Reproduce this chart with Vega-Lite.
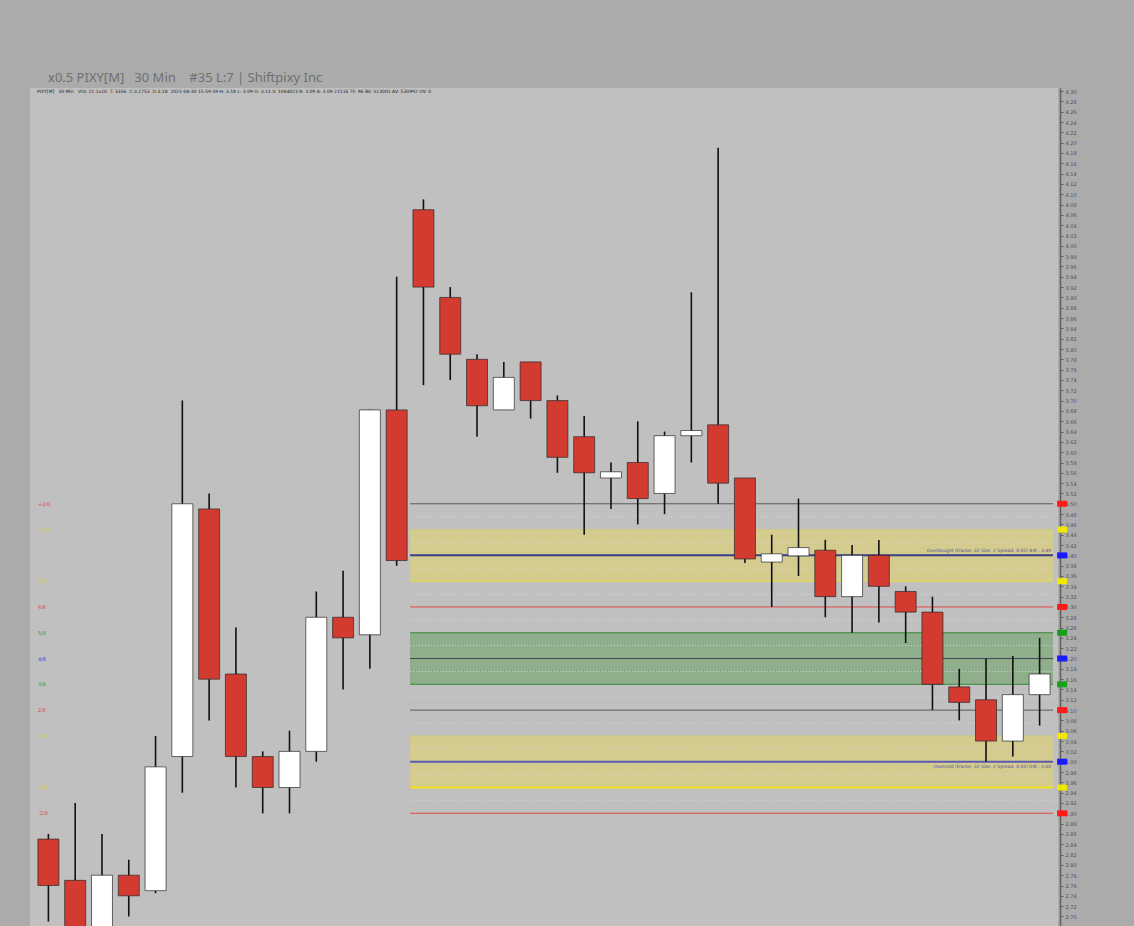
{
  "$schema": "https://vega.github.io/schema/vega-lite/v6.json",
  "width": 1028,
  "height": 838,
  "padding": {"left": 30, "top": 72, "right": 57, "bottom": 2},
  "background": "#ababab",
  "title": {
    "text": "x0.5 PIXY[M]\u00a0\u00a0 30 Min\u00a0\u00a0\u00a0 #35 L:7 | Shiftpixy Inc",
    "anchor": "start",
    "dx": 18,
    "offset": 3,
    "font": "Noto Sans",
    "fontSize": 13,
    "fontWeight": "normal",
    "color": "#6f6f6f"
  },
  "config": {"view": {"fill": "#c0c0c0", "stroke": null}},
  "datasets": {
    "candles": [
      {"i": 1, "open": 2.85, "high": 2.86, "low": 2.69, "close": 2.76},
      {"i": 2, "open": 2.77, "high": 2.92, "low": 2.64, "close": 2.66},
      {"i": 3, "open": 2.65, "high": 2.86, "low": 2.63, "close": 2.78},
      {"i": 4, "open": 2.78, "high": 2.81, "low": 2.70, "close": 2.74},
      {"i": 5, "open": 2.75, "high": 3.05, "low": 2.745, "close": 2.99},
      {"i": 6, "open": 3.01, "high": 3.70, "low": 2.94, "close": 3.50},
      {"i": 7, "open": 3.49, "high": 3.52, "low": 3.08, "close": 3.16},
      {"i": 8, "open": 3.17, "high": 3.26, "low": 2.95, "close": 3.01},
      {"i": 9, "open": 3.01, "high": 3.02, "low": 2.90, "close": 2.95},
      {"i": 10, "open": 2.95, "high": 3.06, "low": 2.90, "close": 3.02},
      {"i": 11, "open": 3.02, "high": 3.33, "low": 3.00, "close": 3.28},
      {"i": 12, "open": 3.28, "high": 3.37, "low": 3.14, "close": 3.24},
      {"i": 13, "open": 3.246, "high": 3.683, "low": 3.18, "close": 3.682},
      {"i": 14, "open": 3.682, "high": 3.94, "low": 3.38, "close": 3.39},
      {"i": 15, "open": 4.07, "high": 4.09, "low": 3.73, "close": 3.92},
      {"i": 16, "open": 3.90, "high": 3.92, "low": 3.74, "close": 3.79},
      {"i": 17, "open": 3.78, "high": 3.79, "low": 3.63, "close": 3.69},
      {"i": 18, "open": 3.682, "high": 3.775, "low": 3.682, "close": 3.745},
      {"i": 19, "open": 3.775, "high": 3.775, "low": 3.665, "close": 3.70},
      {"i": 20, "open": 3.70, "high": 3.71, "low": 3.56, "close": 3.59},
      {"i": 21, "open": 3.63, "high": 3.67, "low": 3.44, "close": 3.56},
      {"i": 22, "open": 3.55, "high": 3.58, "low": 3.49, "close": 3.562},
      {"i": 23, "open": 3.58, "high": 3.66, "low": 3.46, "close": 3.51},
      {"i": 24, "open": 3.52, "high": 3.64, "low": 3.48, "close": 3.632},
      {"i": 25, "open": 3.632, "high": 3.91, "low": 3.58, "close": 3.642},
      {"i": 26, "open": 3.653, "high": 4.19, "low": 3.50, "close": 3.54},
      {"i": 27, "open": 3.55, "high": 3.55, "low": 3.385, "close": 3.393},
      {"i": 28, "open": 3.387, "high": 3.44, "low": 3.30, "close": 3.403},
      {"i": 29, "open": 3.399, "high": 3.51, "low": 3.36, "close": 3.415},
      {"i": 30, "open": 3.41, "high": 3.43, "low": 3.28, "close": 3.32},
      {"i": 31, "open": 3.32, "high": 3.42, "low": 3.25, "close": 3.40},
      {"i": 32, "open": 3.40, "high": 3.43, "low": 3.27, "close": 3.34},
      {"i": 33, "open": 3.33, "high": 3.34, "low": 3.23, "close": 3.29},
      {"i": 34, "open": 3.29, "high": 3.32, "low": 3.10, "close": 3.15},
      {"i": 35, "open": 3.145, "high": 3.18, "low": 3.08, "close": 3.115},
      {"i": 36, "open": 3.12, "high": 3.20, "low": 3.00, "close": 3.04},
      {"i": 37, "open": 3.04, "high": 3.205, "low": 3.01, "close": 3.13},
      {"i": 38, "open": 3.13, "high": 3.24, "low": 3.07, "close": 3.17}
    ],
    "levels": [
      {"lbl": "+2/8", "p": 3.50},
      {"lbl": "+1/8", "p": 3.45},
      {"lbl": "8/8", "p": 3.40},
      {"lbl": "7/8", "p": 3.35},
      {"lbl": "6/8", "p": 3.30},
      {"lbl": "5/8", "p": 3.25},
      {"lbl": "4/8", "p": 3.20},
      {"lbl": "3/8", "p": 3.15},
      {"lbl": "2/8", "p": 3.10},
      {"lbl": "1/8", "p": 3.05},
      {"lbl": "0/8", "p": 3.00},
      {"lbl": "-1/8", "p": 2.95},
      {"lbl": "-2/8", "p": 2.90}
    ],
    "minor": [
      {"p": 2.925}, {"p": 2.975}, {"p": 3.025}, {"p": 3.075}, {"p": 3.125}, {"p": 3.175},
      {"p": 3.225}, {"p": 3.275}, {"p": 3.325}, {"p": 3.375}, {"p": 3.425}, {"p": 3.475}
    ],
    "bands": [
      {"zone": "overbought", "lo": 3.35, "hi": 3.45},
      {"zone": "middle", "lo": 3.15, "hi": 3.25},
      {"zone": "oversold", "lo": 2.95, "hi": 3.05}
    ],
    "notes": [
      {"kind": "ob", "p": 3.40, "note": "Overbought (Frame: 32 Size: 2 Spread: 0.05) 8/8 : 3.40"},
      {"kind": "os", "p": 3.00, "note": "Oversold (Frame: 32 Size: 2 Spread: 0.05) 0/8 : 3.00"}
    ],
    "info": [
      {"p": 4.306, "txt": "PIXY[M]\u00a0\u00a0 30 Min\u00a0\u00a0 VOL 21.1x10\u00a0 T: 3356\u00a0 C:3.1753\u00a0 D:3.18\u00a0 2021-04-30 15:59:59 H: 3.18 L: 3.09 O: 3.13 V: 1044023 R: 3.09 A: 3.09 21516 TF: 96 BV: 513001 AV: 530992 OV: 0"}
    ]
  },
  "resolve": {"scale": {"fill": "independent", "stroke": "independent", "color": "independent"}},
  "layer": [
    {
      "data": {"name": "bands"},
      "mark": {"type": "rect"},
      "encoding": {
        "x": {"datum": 14.5, "type": "quantitative", "scale": {"domain": [0.5, 38.5], "nice": false, "zero": false}, "axis": null},
        "x2": {"datum": 38.5},
        "y": {"field": "lo", "type": "quantitative", "title": null,
          "scale": {"domain": [2.6815, 4.306], "nice": false, "zero": false},
          "axis": {"orient": "right", "tickCount": 81, "format": ".2f", "labelFontSize": 5, "labelColor": "#505050", "labelFont": "DejaVu Sans", "tickColor": "#606060", "tickSize": 3, "domainColor": "#606060", "domainWidth": 1.5, "offset": 2, "grid": false, "labelPadding": 2, "labelOverlap": false, "labelBound": false, "title": null}},
        "y2": {"field": "hi"},
        "fill": {"field": "zone", "type": "nominal", "legend": null,
          "scale": {"domain": ["overbought", "middle", "oversold"], "range": ["#d4cc8e", "#8fae8b", "#d4cc8e"]}}
      }
    },
    {
      "data": {"name": "minor"},
      "mark": {"type": "rule", "stroke": "#d6d6d6", "strokeWidth": 1, "strokeDash": [1, 2]},
      "encoding": {
        "x": {"datum": 14.5, "type": "quantitative"},
        "x2": {"datum": 38.5},
        "y": {"field": "p", "type": "quantitative", "title": null}
      }
    },
    {
      "data": {"name": "levels"},
      "transform": [{"filter": {"not": {"field": "lbl", "oneOf": ["8/8", "0/8", "-1/8"]}}}],
      "mark": {"type": "rule", "strokeWidth": 1},
      "encoding": {
        "x": {"datum": 14.5, "type": "quantitative"},
        "x2": {"datum": 38.5},
        "y": {"field": "p", "type": "quantitative", "title": null},
        "stroke": {"field": "lbl", "type": "nominal", "legend": null,
          "scale": {"domain": ["+2/8", "+1/8", "7/8", "6/8", "5/8", "4/8", "3/8", "2/8", "1/8", "-2/8"],
            "range": ["#5a5a5a", "#cfc77e", "#e6da3c", "#e04848", "#3a8a3a", "#454555", "#3a8a3a", "#5a5a5a", "#cfc77e", "#e04848"]}}
      }
    },
    {
      "data": {"name": "levels"},
      "transform": [{"filter": {"field": "lbl", "oneOf": ["8/8", "0/8", "-1/8"]}}],
      "mark": {"type": "rule", "strokeWidth": 2},
      "encoding": {
        "x": {"datum": 14.5, "type": "quantitative"},
        "x2": {"datum": 38.5},
        "y": {"field": "p", "type": "quantitative", "title": null},
        "stroke": {"field": "lbl", "type": "nominal", "legend": null,
          "scale": {"domain": ["8/8", "0/8", "-1/8"], "range": ["#3c3c8c", "#5a5ab4", "#f2e31c"]}}
      }
    },
    {
      "data": {"name": "candles"},
      "mark": {"type": "rule", "stroke": "#111111", "strokeWidth": 1.6, "clip": true},
      "encoding": {
        "x": {"field": "i", "type": "quantitative"},
        "y": {"field": "low", "type": "quantitative", "title": null},
        "y2": {"field": "high"}
      }
    },
    {
      "data": {"name": "candles"},
      "mark": {"type": "bar", "width": 21, "stroke": "#2a2a2a", "strokeWidth": 0.7, "clip": true},
      "encoding": {
        "x": {"field": "i", "type": "quantitative"},
        "y": {"field": "open", "type": "quantitative", "title": null},
        "y2": {"field": "close"},
        "fill": {"condition": {"test": "datum.close >= datum.open", "value": "#ffffff"}, "value": "#d33a30"}
      }
    },
    {
      "data": {"name": "levels"},
      "transform": [{"filter": {"not": {"field": "lbl", "oneOf": ["8/8", "0/8"]}}}],
      "mark": {"type": "text", "align": "left", "baseline": "middle", "dx": 3, "fontSize": 5, "font": "DejaVu Sans"},
      "encoding": {
        "x": {"datum": 0.5, "type": "quantitative"},
        "y": {"field": "p", "type": "quantitative", "title": null},
        "text": {"field": "lbl"},
        "fill": {"field": "lbl", "type": "nominal", "legend": null,
          "scale": {"domain": ["+2/8", "+1/8", "8/8", "7/8", "6/8", "5/8", "4/8", "3/8", "2/8", "1/8", "0/8", "-1/8", "-2/8"],
            "range": ["#e04a4a", "#d8cc10", "#4040e0", "#d8cc10", "#e04a4a", "#3a9a3a", "#4040e0", "#3a9a3a", "#e04a4a", "#d8cc10", "#4040e0", "#d8cc10", "#e04a4a"]}}
      }
    },
    {
      "data": {"name": "levels"},
      "mark": {"type": "point", "filled": true, "opacity": 1, "shape": "M-1,-0.6H1V0.6H-1Z", "size": 100, "strokeWidth": 0},
      "encoding": {
        "x": {"datum": 38.84, "type": "quantitative"},
        "y": {"field": "p", "type": "quantitative", "title": null},
        "fill": {"field": "lbl", "type": "nominal", "legend": null,
          "scale": {"domain": ["+2/8", "+1/8", "8/8", "7/8", "6/8", "5/8", "4/8", "3/8", "2/8", "1/8", "0/8", "-1/8", "-2/8"],
            "range": ["#ff1a1a", "#f0e800", "#1a1aff", "#f0e800", "#ff1a1a", "#18a018", "#1a1aff", "#18a018", "#ff1a1a", "#f0e800", "#1a1aff", "#f0e800", "#ff1a1a"]}}
      }
    },
    {
      "data": {"name": "notes"},
      "transform": [{"filter": "datum.kind == 'ob'"}],
      "mark": {"type": "text", "align": "right", "baseline": "bottom", "dy": -2, "dx": -2, "fontSize": 4.5, "font": "DejaVu Sans", "fill": "#4a4aa0"},
      "encoding": {
        "x": {"datum": 38.5, "type": "quantitative"},
        "y": {"field": "p", "type": "quantitative", "title": null},
        "text": {"field": "note"}
      }
    },
    {
      "data": {"name": "notes"},
      "transform": [{"filter": "datum.kind == 'os'"}],
      "mark": {"type": "text", "align": "right", "baseline": "top", "dy": 2, "dx": -2, "fontSize": 4.5, "font": "DejaVu Sans", "fill": "#4a4aa0"},
      "encoding": {
        "x": {"datum": 38.5, "type": "quantitative"},
        "y": {"field": "p", "type": "quantitative", "title": null},
        "text": {"field": "note"}
      }
    },
    {
      "data": {"name": "info"},
      "mark": {"type": "text", "align": "left", "baseline": "top", "dx": 2, "dy": 1, "fontSize": 4.5, "font": "DejaVu Sans", "fill": "#202020"},
      "encoding": {
        "x": {"datum": 0.5, "type": "quantitative"},
        "y": {"field": "p", "type": "quantitative", "title": null},
        "text": {"field": "txt"}
      }
    }
  ]
}
